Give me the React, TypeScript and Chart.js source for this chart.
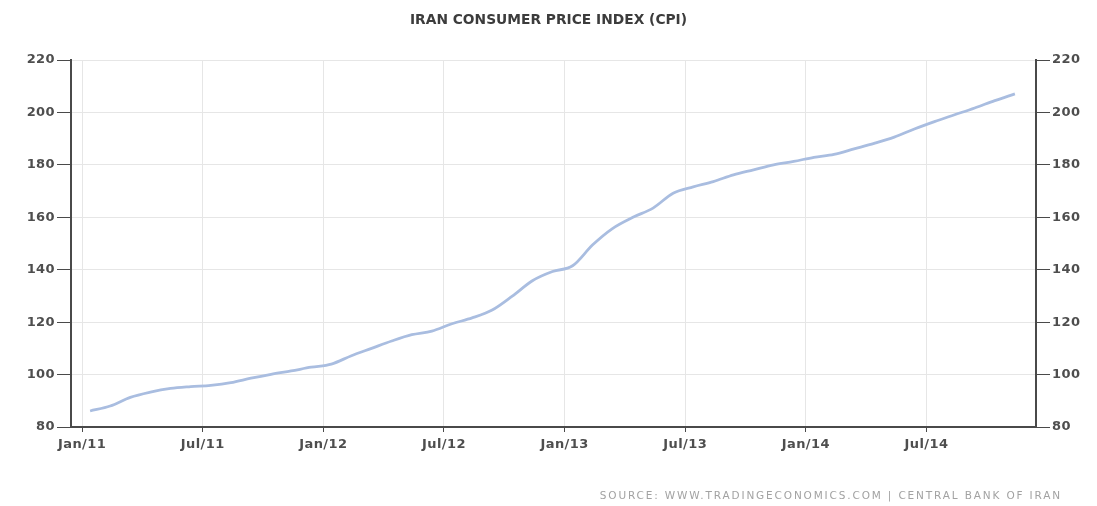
import React, { useEffect, useRef } from "react";
import { Chart, registerables } from "chart.js";

Chart.register(...registerables);

// Monthly CPI readings, Jan 2011 – Nov 2014 (observations dated mid-month)
const OBS_DAY_OFFSET = 0.4; // fraction of a month after the 1st
const CPI_VALUES = [
  86.1, 88.0, 91.3, 93.3, 94.7, 95.4, 95.9, 96.9, 98.6, 100.1, 101.4, 102.8,
  104.0, 107.2, 110.0, 112.8, 115.2, 116.6, 119.4, 121.6, 124.6, 129.9, 135.8, 139.3,
  141.5, 149.5, 155.8, 160.0, 163.5, 169.2, 171.6, 173.6, 176.2, 178.1, 180.0, 181.3,
  182.9, 184.0, 186.1, 188.2, 190.6, 193.7, 196.5, 199.1, 201.7, 204.5, 207.1,
];

// Tick positions in months since Jan 2011 and their labels
const X_TICK_MONTHS = [0, 6, 12, 18, 24, 30, 36, 42];
const X_TICK_LABELS = ["Jan/11", "Jul/11", "Jan/12", "Jul/12", "Jan/13", "Jul/13", "Jan/14", "Jul/14"];
const Y_MIN = 80;
const Y_MAX = 220;
const Y_STEP = 20;

const TITLE = "IRAN CONSUMER PRICE INDEX (CPI)";
const SOURCE = "SOURCE: WWW.TRADINGECONOMICS.COM | CENTRAL BANK OF IRAN";

const AXIS_COLOR = "#4a4a4a";
const GRID_COLOR = "#e6e6e6";
const TICK_TEXT = "#4e4e4e";
const LINE_COLOR = "#a9bde0";
const FONT = "'DejaVu Sans', Verdana, sans-serif";

const textPlugin = {
  id: "titleAndSource",
  beforeDraw(chart: any) {
    chart.ctx.letterSpacing = "0.4px";
  },
  afterDraw(chart: any) {
    const ctx = chart.ctx as CanvasRenderingContext2D;
    const w = chart.width;
    ctx.save();
    ctx.letterSpacing = "0px";
    ctx.fillStyle = "#3c3c3c";
    ctx.font = `bold 13.8px ${FONT}`;
    ctx.textAlign = "center";
    ctx.textBaseline = "middle";
    ctx.fillText(TITLE, w / 2, 20);

    ctx.letterSpacing = "1.85px";
    ctx.fillStyle = "#a2a2a2";
    ctx.font = `10.5px ${FONT}`;
    ctx.textAlign = "right";
    ctx.fillText(SOURCE, 1062, 496);
    ctx.restore();
    ctx.letterSpacing = "0px";
  },
};

export default function App() {
  const ref = useRef<HTMLCanvasElement>(null);

  useEffect(() => {
    if (!ref.current) return;
    const points = CPI_VALUES.map((v, i) => ({ x: i + OBS_DAY_OFFSET, y: v }));
    const tickFont = { family: FONT, size: 13, weight: "bold" as const };
    const yAxisCommon = {
      min: Y_MIN,
      max: Y_MAX,
      border: { color: AXIS_COLOR, width: 2 },
    };
    const chart = new Chart(ref.current, {
      type: "line",
      data: {
        datasets: [
          {
            data: points,
            borderColor: LINE_COLOR,
            borderWidth: 2.8,
            pointRadius: 0,
            cubicInterpolationMode: "monotone",
            fill: false,
          },
        ],
      },
      options: {
        responsive: false,
        animation: false,
        layout: { padding: { top: 60, left: 0, right: 0, bottom: 0 } },
        plugins: {
          legend: { display: false },
          title: { display: false },
          tooltip: { enabled: false },
        },
        scales: {
          x: {
            type: "linear",
            min: -0.55,
            max: 47.45,
            afterBuildTicks: (scale: any) => {
              scale.ticks = X_TICK_MONTHS.map((v) => ({ value: v }));
            },
            afterFit: (scale: any) => {
              scale.height = 79;
            },
            ticks: {
              color: TICK_TEXT,
              font: tickFont,
              padding: 5,
              maxRotation: 0,
              autoSkip: false,
              callback: (v: any) => {
                const i = X_TICK_MONTHS.indexOf(Number(v));
                return i >= 0 ? X_TICK_LABELS[i] : "";
              },
            },
            grid: { color: GRID_COLOR, tickColor: AXIS_COLOR, tickLength: 5 },
            border: { color: AXIS_COLOR, width: 2 },
          },
          y: {
            ...yAxisCommon,
            position: "left",
            afterFit: (scale: any) => {
              scale.width = 71;
            },
            ticks: { stepSize: Y_STEP, color: TICK_TEXT, font: tickFont, padding: 2 },
            grid: { color: GRID_COLOR, tickColor: AXIS_COLOR, tickLength: 14 },
          },
          y2: {
            ...yAxisCommon,
            display: true,
            position: "right",
            afterFit: (scale: any) => {
              scale.width = 61;
            },
            ticks: { stepSize: Y_STEP, color: TICK_TEXT, font: tickFont, padding: 2 },
            grid: { drawOnChartArea: false, tickColor: AXIS_COLOR, tickLength: 14 },
          },
        },
      },
      plugins: [textPlugin],
    } as any);
    return () => chart.destroy();
  }, []);

  return (
    <div style={{ position: "fixed", left: 0, top: 0, width: 1097, height: 506, background: "#fff" }}>
      <canvas ref={ref} width={1097} height={506} />
    </div>
  );
}
